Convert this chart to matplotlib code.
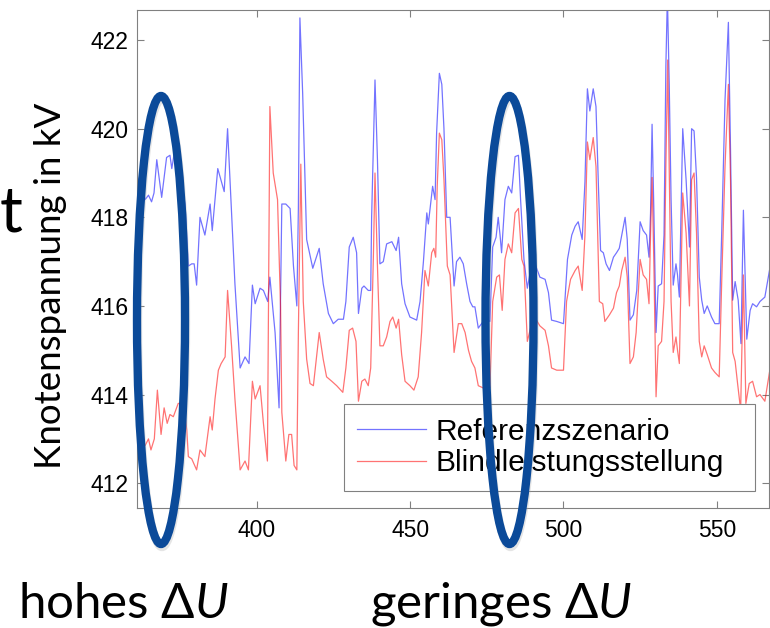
import matplotlib.pyplot as plt
from matplotlib.patches import Ellipse

plt.rcParams['font.family'] = ['Liberation Sans', 'DejaVu Sans']
plt.rcParams['mathtext.fontset'] = 'custom'
plt.rcParams['mathtext.rm'] = 'Lato'
plt.rcParams['mathtext.it'] = 'Lato:italic'
plt.rcParams['mathtext.fallback'] = 'stixsans'

# Referenzszenario (blue)
x_ref = [361.0, 362.4, 363.5, 364.6, 365.6, 366.4, 367.3, 368.9, 370.5, 371.6,
         372.2, 373.5, 374.9, 376.5, 377.0, 377.6, 378.7, 379.5, 380.3, 381.4,
         383.0, 384.7, 385.4, 387.2, 389.3, 390.4, 391.7, 392.8, 394.5, 396.1,
         397.4, 398.5, 399.4, 401.0, 402.1, 403.5, 404.2, 405.9, 407.2, 408.1,
         409.4, 410.8, 411.9, 413.0, 413.5, 414.0, 414.9, 415.7, 416.2, 418.2,
         420.3, 421.6, 423.3, 424.9, 426.5, 428.2, 429.0, 430.1, 431.4, 432.5,
         433.1, 434.2, 434.9, 436.3, 437.1, 437.4, 438.5, 439.3, 440.1, 441.2,
         442.3, 444.0, 445.4, 446.2, 447.2, 448.3, 449.9, 452.1, 453.2, 454.3,
         455.4, 455.9, 457.3, 458.1, 458.6, 459.5, 460.3, 461.0, 461.9, 463.0,
         464.3, 465.1, 466.2, 467.3, 468.4, 469.5, 470.4, 471.1, 472.2, 473.8,
         474.9, 476.0, 476.9, 478.0, 478.7, 479.3, 479.8, 480.9, 482.0, 483.1,
         484.2, 485.3, 486.0, 487.1, 488.2, 489.1, 490.7, 492.3, 494.0, 495.1,
         496.1, 497.8, 500.0, 501.3, 502.7, 503.8, 504.8, 506.1, 507.0, 507.8,
         508.6, 509.7, 510.6, 511.4, 512.1, 513.0, 513.9, 515.0, 516.3, 517.3,
         518.2, 519.0, 520.1, 520.8, 521.7, 522.8, 523.9, 525.0, 526.0, 527.1,
         527.9, 528.4, 528.9, 529.5, 530.2, 530.9, 532.0, 532.8, 533.4, 533.9,
         534.5, 535.1, 535.8, 536.7, 537.2, 537.8, 538.9, 540.0, 541.1, 541.8,
         542.6, 543.4, 544.3, 545.1, 545.9, 546.9, 548.3, 549.4, 550.8, 551.6,
         552.7, 553.8, 554.5, 555.2, 556.0, 557.0, 557.9, 558.7, 559.8, 560.9,
         561.7, 563.0, 564.1, 565.7, 567.2]
u_ref = [418.9, 418.7, 418.4, 418.5, 418.35, 418.55, 419.3, 418.45, 419.35, 419.4,
         419.1, 419.67, 419.0, 418.3, 417.7, 416.9, 416.95, 416.95, 416.47, 418.0,
         417.6, 418.3, 417.7, 419.1, 418.58, 420.0, 418.1, 416.5, 414.6, 414.85,
         414.7, 416.47, 416.05, 416.4, 416.35, 416.1, 416.65, 415.4, 413.7, 418.3,
         418.3, 418.2, 416.9, 416.0, 418.2, 422.5, 420.8, 418.8, 417.5, 416.85,
         417.3, 416.5, 415.83, 415.6, 415.7, 415.7, 416.1, 417.33, 417.55, 417.2,
         415.83, 416.4, 416.45, 416.35, 416.35, 418.0, 421.1, 419.3, 416.95, 417.0,
         417.4, 417.45, 417.25, 417.55, 416.5, 416.05, 415.75, 415.68, 416.1, 417.0,
         418.1, 417.85, 418.7, 418.4, 419.9, 421.25, 421.0, 420.0, 418.0, 418.0,
         416.45, 417.0, 417.1, 416.95, 416.5, 416.1, 415.98, 415.98, 415.5, 415.65,
         415.7, 415.65, 417.33, 417.55, 418.0, 417.6, 417.2, 418.4, 418.7, 418.55,
         419.37, 419.4, 418.4, 417.05, 416.4, 416.75, 416.95, 416.65, 416.6, 416.3,
         415.68, 415.65, 415.6, 417.05, 417.6, 417.8, 417.9, 417.5, 418.8, 420.9,
         420.4, 420.9, 420.5, 418.7, 417.25, 417.2, 416.95, 416.8, 417.1, 417.2,
         417.3, 417.6, 418.0, 417.5, 415.68, 415.8, 416.35, 417.9, 417.7, 417.6,
         417.1, 418.1, 420.1, 418.1, 415.4, 416.45, 416.5, 417.6, 421.4, 423.0,
         421.0, 418.4, 416.47, 416.95, 416.7, 416.2, 420.0, 418.85, 417.33, 420.0,
         419.95, 418.9, 416.65, 416.13, 415.83, 416.0, 415.75, 415.6, 415.6, 417.6,
         420.65, 422.4, 419.5, 416.13, 416.55, 416.13, 415.15, 418.16, 415.25, 415.9,
         416.05, 415.98, 416.1, 416.2, 416.8]

# Blindleistungsstellung (red)
x_bl = [361.0, 362.4, 363.5, 364.6, 365.4, 366.5, 367.5, 368.7, 369.7, 370.7,
        371.6, 372.7, 374.3, 376.0, 377.1, 377.6, 378.7, 380.3, 381.4, 383.0,
        384.7, 385.4, 386.3, 387.4, 388.3, 389.6, 390.4, 391.7, 392.8, 394.5,
        396.1, 397.2, 398.5, 399.4, 401.0, 402.1, 403.4, 404.2, 405.3, 406.7,
        407.7, 408.1, 409.4, 410.4, 411.3, 412.1, 413.0, 413.5, 414.3, 415.1,
        416.2, 417.3, 418.4, 420.3, 421.6, 422.7, 424.4, 426.0, 428.0, 429.0,
        430.1, 431.2, 432.3, 433.1, 434.2, 435.2, 436.3, 437.1, 438.0, 438.5,
        439.3, 440.1, 441.2, 442.3, 443.4, 444.3, 445.4, 446.2, 447.2, 448.3,
        449.9, 451.2, 452.6, 453.7, 454.8, 455.9, 457.0, 457.7, 458.3, 458.8,
        459.5, 460.3, 461.0, 462.1, 463.0, 464.3, 465.7, 466.8, 467.9, 469.0,
        470.0, 471.1, 472.2, 473.8, 476.0, 476.9, 478.2, 479.1, 480.0, 480.9,
        482.0, 483.1, 484.2, 485.3, 486.4, 487.1, 488.2, 489.6, 491.0, 492.3,
        494.0, 495.1, 496.1, 497.8, 500.0, 501.0, 502.3, 503.8, 504.8, 506.1,
        507.0, 507.8, 508.6, 509.7, 510.6, 511.7, 512.8, 513.5, 515.0, 516.3,
        517.3, 518.2, 519.0, 520.1, 520.8, 521.7, 522.8, 523.7, 525.0, 526.0,
        527.1, 527.9, 528.4, 528.9, 529.5, 530.2, 530.9, 532.0, 532.8, 533.4,
        534.0, 534.5, 535.1, 535.8, 536.7, 537.2, 537.8, 538.9, 540.0, 541.1,
        541.8, 542.6, 543.4, 544.3, 545.1, 545.9, 546.9, 548.3, 549.4, 550.8,
        551.6, 552.7, 553.8, 554.5, 555.2, 556.0, 556.8, 557.8, 558.7, 559.5,
        560.6, 561.7, 563.0, 564.1, 565.7, 567.2]
u_bl = [412.5, 413.0, 412.85, 413.0, 412.75, 413.0, 414.1, 413.1, 413.7, 413.35,
        413.55, 413.5, 413.8, 413.8, 413.2, 412.6, 412.55, 412.3, 412.75, 412.6,
        413.5, 413.2, 413.9, 414.55, 414.7, 414.85, 416.35, 415.1, 413.9, 412.3,
        412.5, 412.3, 414.3, 413.9, 414.2, 413.35, 412.5, 420.5, 419.0, 418.4,
        415.95, 413.6, 412.5, 413.1, 413.1, 412.4, 412.3, 415.4, 419.2, 416.1,
        414.8, 414.25, 414.2, 415.4, 414.8, 414.4, 414.3, 414.2, 414.05, 414.6,
        415.45, 415.5, 415.2, 413.85, 414.3, 414.35, 414.2, 414.6, 417.2, 419.0,
        416.9, 415.1, 415.1, 415.3, 415.65, 415.75, 415.5, 415.7, 414.9, 414.3,
        414.2, 414.1, 414.4, 415.4, 416.8, 416.45, 417.2, 417.3, 417.1, 418.7,
        419.9, 419.75, 418.85, 416.9, 416.7, 414.95, 415.6, 415.6, 415.4, 415.0,
        414.75, 414.6, 414.2, 414.15, 414.15, 416.1, 416.65, 416.7, 415.9, 417.05,
        417.4, 417.2, 418.1, 418.2, 417.05, 416.9, 415.2, 415.6, 415.7, 415.55,
        415.45, 415.1, 414.6, 414.55, 414.55, 416.1, 416.6, 416.8, 416.9, 416.35,
        417.6, 419.7, 419.3, 419.8, 419.15, 416.1, 416.05, 415.65, 415.8, 415.95,
        416.3, 416.45, 416.8, 417.1, 416.65, 414.7, 414.85, 415.4, 417.05, 416.7,
        416.6, 416.05, 417.6, 418.9, 416.9, 413.95, 415.1, 415.2, 416.1, 419.15,
        421.55, 419.15, 416.1, 414.95, 415.3, 415.0, 414.7, 418.55, 417.65, 416.0,
        418.85, 419.0, 417.65, 415.2, 414.85, 415.1, 414.9, 414.6, 414.5, 414.4,
        416.5, 419.15, 421.0, 418.8, 414.95, 414.75, 414.25, 413.65, 416.7, 413.8,
        414.25, 414.3, 413.95, 414.0, 413.85, 414.5]

x_ticks = [400, 450, 500, 550]
y_ticks = [412, 414, 416, 418, 420, 422]

W, H = 770, 628
fig = plt.figure(figsize=(W / 100, H / 100), dpi=100)
ax = fig.add_axes([137 / W, 1 - 508 / H, 632 / W, 498.5 / H])

ax.plot(x_ref, u_ref, color='blue', lw=0.9, alpha=0.55, label='Referenzszenario')
ax.plot(x_bl, u_bl, color='red', lw=0.9, alpha=0.55, label='Blindleistungsstellung')

ax.set_xlim(360.85, 567.05)
ax.set_ylim(411.44, 422.69)
ax.set_xticks(x_ticks)
ax.set_yticks(y_ticks)
ax.tick_params(direction='in', length=5, width=0.8, top=True, right=True,
               color='#808080', labelcolor='black', labelsize=16.5)
ax.tick_params(axis='x', pad=8)
ax.tick_params(axis='y', pad=6)
for s in ax.spines.values():
    s.set_color('#808080')
    s.set_linewidth(0.8)

leg = ax.legend(loc='lower left',
                bbox_to_anchor=(344 / W, 1 - 490.7 / H, 411 / W, 79 / H),
                bbox_transform=fig.transFigure, mode='expand', borderaxespad=0,
                fontsize=21.5, handlelength=2.3, handletextpad=0.3,
                labelspacing=0.12, borderpad=0.45, fancybox=False, framealpha=1)
leg.get_frame().set_edgecolor('#808080')
leg.get_frame().set_linewidth(0.8)

# highlighted regions
for cx in (161, 509.5):
    shadow = Ellipse((cx + 1, H - 323), 48, 448, transform=None, fill=False,
                     ec='#aaaaaa', lw=6, alpha=0.3, zorder=9)
    ring = Ellipse((cx, H - 320), 48, 448, transform=None, fill=False,
                   ec='#0b4a99', lw=6, zorder=10)
    fig.add_artist(shadow)
    fig.add_artist(ring)

fig.text(51 / W, 1 - 286 / H, 'Knotenspannung in kV', rotation=90,
         ha='center', va='center', fontsize=26.5, family='Lato')
fig.text(11 / W, 1 - 214 / H, 't', ha='center', va='center', fontsize=46,
         family='Lato')
fig.text(18 / W, 1 - 618 / H, r'hohes $\Delta U$', ha='left', va='baseline',
         fontsize=35.5, family='Lato')
fig.text(370 / W, 1 - 618 / H, r'geringes $\Delta U$', ha='left', va='baseline',
         fontsize=35.5, family='Lato')

fig.savefig('out.png', dpi=100)
